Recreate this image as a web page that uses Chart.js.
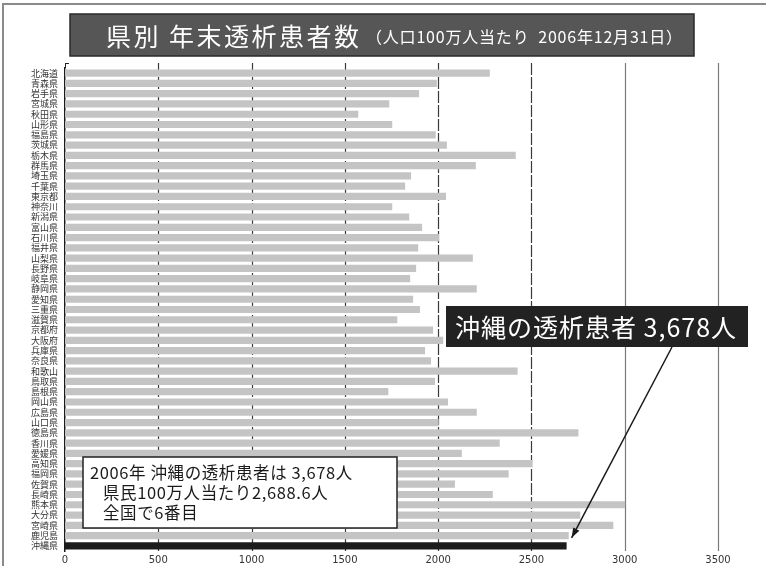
<!DOCTYPE html>
<html>
<head>
<meta charset="utf-8">
<script src="https://cdn.jsdelivr.net/npm/chart.js@4"></script>
<style>
html,body{margin:0;padding:0;background:#fff;}
#wrap{position:relative;width:766px;height:566px;}
canvas{display:block;}
</style>
</head>
<body>
<div id="wrap"><canvas id="c" width="766" height="566"></canvas></div>
<script>
const prefectures = ['北海道','青森県','岩手県','宮城県','秋田県','山形県','福島県','茨城県','栃木県','群馬県','埼玉県','千葉県','東京都','神奈川','新潟県','富山県','石川県','福井県','山梨県','長野県','岐阜県','静岡県','愛知県','三重県','滋賀県','京都府','大阪府','兵庫県','奈良県','和歌山','鳥取県','島根県','岡山県','広島県','山口県','徳島県','香川県','愛媛県','高知県','福岡県','佐賀県','長崎県','熊本県','大分県','宮崎県','鹿児島','沖縄県'];
const patientsPerMillion = [2277,1993,1898,1738,1572,1754,1987,2047,2416,2202,1855,1823,2042,1754,1845,1914,2005,1893,2186,1882,1850,2207,1866,1903,1781,1973,2027,1930,1962,2426,1983,1733,2053,2207,2003,2752,2330,2127,2506,2378,2090,2293,3002,2762,2939,2700,2688.6];
const xTicks = [0,500,1000,1500,2000,2500,3000,3500];
const titleMain = '県別 年末透析患者数';
const titleSub = '（人口100万人当たり  2006年12月31日）';
const calloutText = '沖縄の透析患者 3,678人';
const noteLines = ['2006年 沖縄の透析患者は 3,678人', '県民100万人当たり2,688.6人', '全国で6番目'];
const highlight = '沖縄県';

const JP = '"Noto Sans CJK JP", "Noto Sans", sans-serif';
const barColors = prefectures.map(p => p === highlight ? '#1c1c1c' : '#c4c4c4');

const decor = {
  id: 'decor',
  beforeDatasetsDraw(chart) {
    const ctx = chart.ctx, xs = chart.scales.x, ys = chart.scales.y, area = chart.chartArea;
    ctx.save();
    xTicks.forEach(v => {
      if (v === 0) return;
      const x = Math.round(xs.getPixelForValue(v)) + 0.5;
      ctx.beginPath();
      ctx.lineWidth = 1.2;
      if (v >= 3000) { ctx.strokeStyle = '#7a7a7a'; ctx.setLineDash([]); }
      else { ctx.strokeStyle = '#3a3a3a'; ctx.setLineDash([12, 2]); }
      ctx.moveTo(x, 63);
      ctx.lineTo(x, area.bottom);
      ctx.stroke();
    });
    // small inner ticks on the y axis
    ctx.setLineDash([]);
    ctx.strokeStyle = '#333'; ctx.lineWidth = 1;
    prefectures.forEach((p, i) => {
      const y = Math.round(ys.getPixelForValue(i)) + 0.5;
      ctx.beginPath(); ctx.moveTo(area.left, y); ctx.lineTo(area.left + 2.5, y); ctx.stroke();
    });
    ctx.restore();
  },
  afterDraw(chart) {
    const ctx = chart.ctx, xs = chart.scales.x, ys = chart.scales.y;
    ctx.save();
    // frame lines
    ctx.strokeStyle = '#8a8a8a';
    ctx.lineWidth = 2;
    ctx.beginPath();
    ctx.moveTo(3, 566); ctx.lineTo(3, 4); ctx.lineTo(766, 4);
    ctx.stroke();
    // left axis corner tick
    ctx.strokeStyle = '#222'; ctx.lineWidth = 1;
    ctx.beginPath(); ctx.moveTo(65, 63.5); ctx.lineTo(69, 63.5); ctx.stroke();
    ctx.beginPath(); ctx.moveTo(65.5, 63); ctx.lineTo(65.5, 68); ctx.stroke();

    // title box
    ctx.fillStyle = '#565656';
    ctx.fillRect(70, 14, 624, 42);
    ctx.strokeStyle = '#2a2a2a'; ctx.lineWidth = 1.5;
    ctx.strokeRect(70, 14, 624, 42);
    ctx.fillStyle = '#ffffff';
    ctx.textBaseline = 'middle';
    ctx.textAlign = 'left';
    ctx.font = '25px ' + JP;
    ctx.letterSpacing = '2.5px';
    ctx.fillText(titleMain, 106, 36);
    ctx.font = '16px ' + JP;
    ctx.letterSpacing = '0.8px';
    ctx.fillText(titleSub, 366, 37);

    // callout black box
    ctx.fillStyle = '#222';
    ctx.fillRect(446, 306, 302, 41);
    ctx.fillStyle = '#fff';
    ctx.font = '25px ' + JP;
    ctx.letterSpacing = '1px';
    ctx.fillText(calloutText, 455, 327);

    // arrow
    ctx.letterSpacing = '0px';
    const tipX = xs.getPixelForValue(patientsPerMillion[prefectures.indexOf(highlight)]) + 5;
    const tipY = ys.getPixelForValue(prefectures.indexOf(highlight)) - 8;
    const sx = 672, sy = 347;
    ctx.strokeStyle = '#1a1a1a'; ctx.lineWidth = 1.5;
    ctx.beginPath(); ctx.moveTo(sx, sy); ctx.lineTo(tipX, tipY); ctx.stroke();
    const ang = Math.atan2(tipY - sy, tipX - sx);
    ctx.fillStyle = '#1a1a1a';
    ctx.beginPath();
    ctx.moveTo(tipX, tipY);
    ctx.lineTo(tipX - 10 * Math.cos(ang) + 3.5 * Math.sin(ang), tipY - 10 * Math.sin(ang) - 3.5 * Math.cos(ang));
    ctx.lineTo(tipX - 10 * Math.cos(ang) - 3.5 * Math.sin(ang), tipY - 10 * Math.sin(ang) + 3.5 * Math.cos(ang));
    ctx.closePath(); ctx.fill();

    // note box
    ctx.fillStyle = '#fff';
    ctx.fillRect(83, 457, 314, 71);
    ctx.strokeStyle = '#222'; ctx.lineWidth = 1.5;
    ctx.strokeRect(83, 457, 314, 71);
    ctx.fillStyle = '#1a1a1a';
    ctx.font = '16.5px ' + JP;
    ctx.letterSpacing = '0.6px';
    ctx.fillText(noteLines[0], 90, 473);
    ctx.fillText(noteLines[1], 103, 493);
    ctx.fillText(noteLines[2], 103, 513);
    ctx.restore();
  }
};

new Chart(document.getElementById('c'), {
  type: 'bar',
  data: {
    labels: prefectures,
    datasets: [{
      data: patientsPerMillion,
      backgroundColor: barColors,
      borderWidth: 0,
      barPercentage: 0.7,
      categoryPercentage: 1.0
    }]
  },
  options: {
    indexAxis: 'y',
    responsive: false,
    animation: false,
    layout: { padding: { left: 0, right: 48, top: 68, bottom: 0 } },
    plugins: { legend: { display: false }, tooltip: { enabled: false }, title: { display: false } },
    scales: {
      x: {
        min: 0, max: 3500,
        afterBuildTicks(axis) { axis.ticks = xTicks.map(v => ({ value: v })); },
        grid: { display: false, drawTicks: false },
        border: { display: false },
        ticks: { color: '#333', font: { family: '"DejaVu Sans", sans-serif', size: 10 }, padding: 3, maxRotation: 0,
                 callback: v => String(v) },
        afterFit(axis) { axis.height = 15; }
      },
      y: {
        grid: { drawOnChartArea: false, drawTicks: false },
        border: { display: true, color: '#1a1a1a', width: 1.5 },
        ticks: { color: '#333', font: { family: JP, size: 9 }, padding: 7, autoSkip: false },
        afterFit(axis) { axis.width = 65; }
      }
    }
  },
  plugins: [decor]
});
</script>
</body>
</html>
